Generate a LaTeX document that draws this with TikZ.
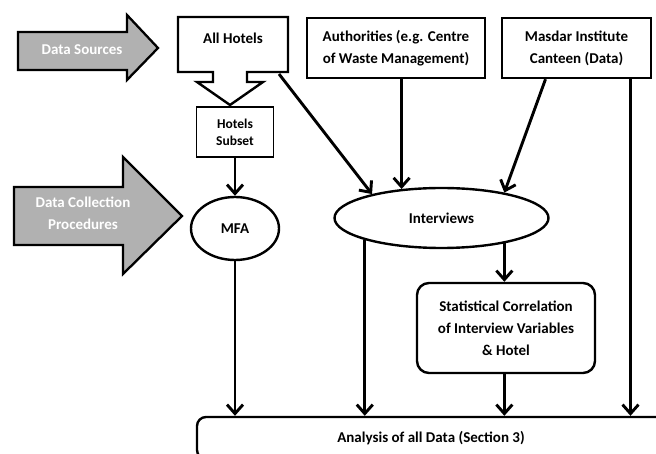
\documentclass[tikz,border=0pt]{standalone}
\usepackage{fontspec}
\setmainfont{Carlito}
\usetikzlibrary{arrows.meta,shapes.geometric}
\definecolor{arrowgray}{HTML}{B1B1B1}
\tikzset{
  bigarrow/.style={draw, fill=arrowgray, line width=2.3pt, line join=miter},
  arrowtext/.style={text=white, align=center, font=\fontsize{15}{22}\selectfont\bfseries},
  boxtext/.style={align=center, inner sep=2pt, font=\fontsize{15}{22}\selectfont\bfseries},
  srcbox/.style={boxtext, draw, line width=2.4pt, minimum height=60pt},
  oval/.style={boxtext, draw, ellipse, line width=2.4pt},
  flow/.style={->, line width=2.9pt}
}
\begin{document}
\begin{tikzpicture}[x=1pt, y=-1pt, >={Straight Barb[length=9pt,width=16pt]}]
\useasboundingbox (0,0) rectangle (656,454);
\clip (0,0) rectangle (656,454);
\draw[bigarrow] (18,32) -- (127,32) -- (127,15) -- (158,48) -- (127,80) -- (127,70) -- (18,70) -- cycle;
\node[arrowtext] (sources) at (82,50) {Data Sources};
\draw[bigarrow] (14,187) -- (123,187) -- (123,157) -- (182,216) -- (123,274) -- (123,245) -- (14,245) -- cycle;
\node[arrowtext] (procedures) at (83,213) {Data Collection\\Procedures};
\draw[line width=2.4pt, line join=miter] (178,17) -- (288,17) -- (288,72) -- (247,72) -- (247,82) -- (263,82) -- (230,105)
  -- (197,82) -- (213,82) -- (213,72) -- (178,72) -- cycle;
\node[boxtext] (hotels) at (233,38) {All Hotels};
\coordinate (hotelscorner) at (279,74);
\node[srcbox, line width=1.8pt, minimum width=77pt, minimum height=50pt, font=\fontsize{13.5}{17}\selectfont\bfseries] (subset) at (235,132) {Hotels\\Subset};
\node[srcbox, minimum width=178pt] (authorities) at (396,48) {Authorities (e.g. Centre\\of Waste Management)};
\node[srcbox, minimum width=149pt] (masdar) at (576.5,48) {Masdar Institute\\Canteen (Data)};
\node[oval, minimum width=88pt, minimum height=63pt] (mfa) at (235,228.5) {MFA};
\node[oval, minimum width=214pt, minimum height=60pt] (interviews) at (441.5,218) {Interviews};
\node[srcbox, rounded corners=12pt, minimum width=178pt, minimum height=90pt] (stats) at (506,328) {Statistical Correlation\\of Interview Variables\\\& Hotel};
\node[srcbox, rounded corners=9pt, minimum width=468pt, minimum height=42pt, font=\fontsize{15}{20}\selectfont\bfseries] (analysis) at (431,438) {Analysis of all Data (Section 3)};
\draw[flow] (subset) -- (mfa);
\draw[flow] (mfa) -- (mfa |- analysis.north);
\draw[flow] (hotelscorner) -- (interviews.161);
\draw[flow] (interviews.144 |- authorities.south) -- (interviews.144);
\draw[flow] ([xshift=-31pt]masdar.south) -- (interviews.22);
\draw[flow] ([xshift=54pt]masdar.south) -- ([xshift=54pt]masdar.south |- analysis.north);
\draw[flow] (interviews.196) -- (interviews.196 |- analysis.north);
\draw[flow] (interviews.-22) -- (interviews.-22 |- stats.north);
\draw[flow] (interviews.-22 |- stats.south) -- (interviews.-22 |- analysis.north);
\end{tikzpicture}
\end{document}
